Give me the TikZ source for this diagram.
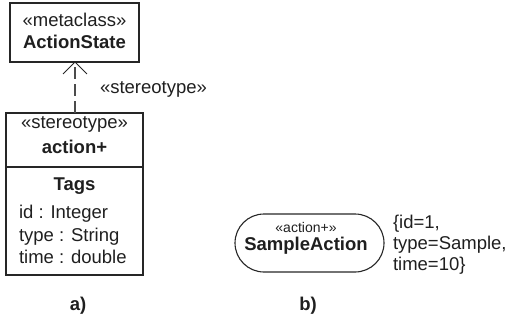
\documentclass[tikz,border=0pt]{standalone}
\usepackage{fontspec}
\setmainfont{Liberation Sans}
\usetikzlibrary{arrows.meta}
\begin{document}
\begin{tikzpicture}[x=1pt,y=-1pt,
  every node/.style={inner sep=0pt,outer sep=0pt,anchor=base,text=black!88},
  lbl/.style={font=\fontsize{18.5}{22}\selectfont},
  blbl/.style={font=\fontsize{18.5}{22}\selectfont\bfseries},
  slbl/.style={font=\fontsize{14}{16}\selectfont},
  boxline/.style={draw=black!85,line width=1.1pt},
  dep/.style={draw=black!70,line width=1.1pt,dash pattern=on 12pt off 5pt},
]
\useasboundingbox (0,0) rectangle (510,320);
% box 1
\draw[boxline] (10,3) rectangle (139,62);
\coordinate (b1bottom) at (75,62);
\node[lbl] (mc) at (74.5,27) {«metaclass»};
\node[blbl] (as) at (74.5,49) {ActionState};
% box 2
\draw[boxline] (6,113) rectangle (143,275);
\draw[boxline] (6,167) -- (143,167);
\coordinate (b2top) at (75,113);
\node[lbl] (st) at (74.5,129) {«stereotype»};
\node[blbl] (ap) at (74.5,154) {action+};
\node[blbl] (tg) at (74.5,190) {Tags};
\node[lbl,anchor=base west] (t1) at (19,218) {id : Integer};
\node[lbl,anchor=base west] (t2) at (19,241) {type : String};
\node[lbl,anchor=base west] (t3) at (19,263) {time : double};
% dependency
\draw[dep] (b2top) -- (b1bottom);
\draw[draw=black!85,line width=1pt] (63,74) -- (b1bottom) -- (87,74);
\node[lbl,anchor=base west] (stl) at (100,94) {«stereotype»};
% b
\draw[boxline,rounded corners=29pt] (235,214) rectangle (384,272);
\node[slbl] (ac) at (306,232) {«action+»};
\node[blbl] (sa) at (306,250) {SampleAction};
\node[lbl,anchor=base west] (v1) at (393,228) {\{id=1,};
\node[lbl,anchor=base west] (v2) at (393,249) {type=Sample,};
\node[lbl,anchor=base west] (v3) at (393,270) {time=10\}};
\node[blbl] (la) at (78,310) {a)};
\node[blbl] (lb) at (308,310) {b)};
\end{tikzpicture}
\end{document}
